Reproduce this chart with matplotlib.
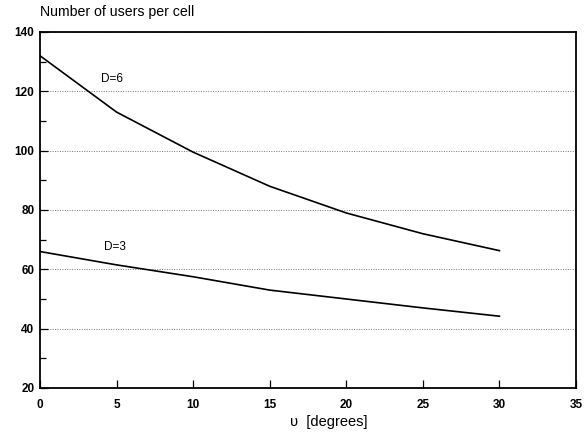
import matplotlib
matplotlib.use("Agg")
import matplotlib.pyplot as plt
import numpy as np

plt.rcParams['font.family'] = ['Liberation Sans', 'DejaVu Sans']

# angle in degrees
angle = [0, 5, 10, 15, 20, 25, 30]
users_d6 = [132, 113, 99.5, 88, 79, 72, 66.3]
users_d3 = [66, 61.5, 57.5, 53, 50, 47, 44.2]

fig = plt.figure(figsize=(5.84, 4.32), dpi=100)
ax = fig.add_axes([40/584, 1 - 388/432, 536/584, 356/432])

ax.plot(angle, users_d6, color='black', lw=1.2)
ax.plot(angle, users_d3, color='black', lw=1.2)

ax.text(4.0, 124, 'D=6', fontsize=8.5, ha='left', va='center')
ax.text(4.2, 67.5, 'D=3', fontsize=8.5, ha='left', va='center')

ax.set_xlim(0, 35)
ax.set_ylim(20, 140)
ax.set_xticks(np.arange(0, 36, 5))
ax.set_yticks(np.arange(20, 141, 20))
ax.set_yticks(np.arange(30, 140, 20), minor=True)
ax.tick_params(direction='in', labelsize=8.5, length=6, width=0.9)
ax.tick_params(which='minor', direction='in', length=4, width=0.9)
ax.tick_params(axis='x', pad=8)
ax.tick_params(axis='y', pad=4)
for lab in ax.get_xticklabels() + ax.get_yticklabels():
    lab.set_fontweight('bold')

ax.grid(axis='y', which='major', linestyle=(0, (1, 1.5)), color='#777777', lw=0.7)
for s in ax.spines.values():
    s.set_linewidth(1.3)

ax.set_xlabel('υ  [degrees]', fontsize=10.5)
ax.xaxis.set_label_coords((329 - 40) / 536, -27 / 356)
fig.text(40/584, 1 - 12/432, 'Number of users per cell', fontsize=10.2, ha='left', va='center')

fig.savefig('out.png', dpi=100)
